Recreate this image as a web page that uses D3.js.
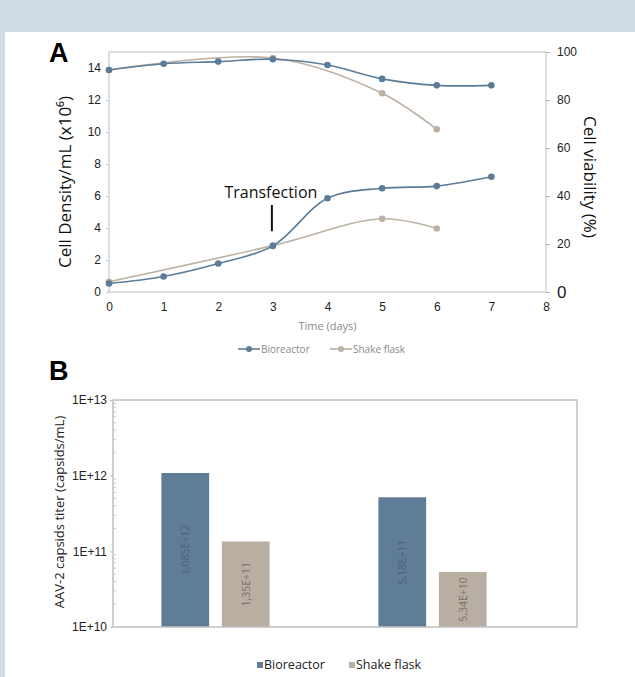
<!DOCTYPE html>
<html>
<head>
<meta charset="utf-8">
<script src="https://cdnjs.cloudflare.com/ajax/libs/d3/7.8.5/d3.min.js"></script>
<style>
  body { margin: 0; background: #cfdce3; }
  svg { display: block; font-family: "Open Sans", sans-serif; }
</style>
</head>
<body>
<div id="chart"></div>
<script>
// ---- data ----
// Panel A: cell density (x10^6/mL) and viability (%) vs time (days)
const bioDays = [0, 1, 2, 3, 4, 5, 6, 7]
const bioDensity = [0.53, 0.97, 1.78, 2.88, 5.86, 6.48, 6.62, 7.2]
const bioViability = [92.5, 95.1, 96.0, 97.0, 94.6, 88.8, 86.1, 86.1]
const flaskDays = [0, 3, 5, 6]
const flaskDensity = [0.64, 2.9, 4.58, 3.97]
const flaskViability = [92.5, 97.5, 82.8, 67.8]
const leftTicks = [0, 2, 4, 6, 8, 10, 12, 14]
const rightTicks = [0, 20, 40, 60, 80, 100]
const dayTicks = [0, 1, 2, 3, 4, 5, 6, 7, 8]

// Panel B: AAV-2 capsid titer
const runs = ["Run 1", "Run 2"]
const bioTiter = [1.085e12, 5.18e11]
const flaskTiter = [1.35e11, 5.34e10]
const titerLabels = [["1,085E+12", "1,35E+11"], ["5,18E+11", "5,34E+10"]]
const logTicks = [1e10, 1e11, 1e12, 1e13]
const logTickLabels = ["1E+10", "1E+11", "1E+12", "1E+13"]

const seriesNames = ["Bioreactor", "Shake flask"]
const blue = "#5b7c98", beige = "#bcb1a4"

var W = 635, H = 677

var svg = d3.select("#chart").append("svg")
    .attr("width", W)
    .attr("height", H)

// white card
svg.append("rect")
    .attr("x", 5).attr("y", 32)
    .attr("width", W - 5).attr("height", H - 32)
    .style("fill", "white")

// ================= Panel A =================
var a = { left: 109, right: 546, top: 52, bottom: 292 }

var x = d3.scaleLinear().domain([0, 8]).range([a.left, a.right])
var yL = d3.scaleLinear().domain([0, 15]).range([a.bottom, a.top])
var yR = d3.scaleLinear().domain([0, 100]).range([a.bottom, a.top])

svg.append("text")
    .attr("x", 49).attr("y", 62)
    .style("font-family", "Liberation Sans, Arial, sans-serif")
    .style("font-weight", "bold").style("font-size", "27px")
    .text("A")

// plot frame
svg.append("rect")
    .attr("x", a.left).attr("y", a.top)
    .attr("width", a.right - a.left).attr("height", a.bottom - a.top)
    .style("fill", "none").style("stroke", "#c9c9c9").style("stroke-width", 1.2)

// left axis
var gl = svg.append("g")
    .attr("transform", "translate(" + a.left + ",0)")
    .call(d3.axisLeft(yL).tickValues(leftTicks).tickSize(3).tickPadding(5))
gl.select(".domain").remove()
gl.selectAll("line").style("stroke", "#c9c9c9")
gl.selectAll("text").style("font-size", "12px").style("fill", "#222")

// right axis
var gr = svg.append("g")
    .attr("transform", "translate(" + a.right + ",0)")
    .call(d3.axisRight(yR).tickValues(rightTicks).tickSize(4).tickPadding(7))
gr.select(".domain").remove()
gr.selectAll("line").style("stroke", "#b5b5b5")
gr.selectAll("text").style("font-size", "12px").style("fill", "#222")
gr.selectAll("text").filter(function (d) { return d === 0 })
    .style("font-size", "17px")

// bottom axis
var gb = svg.append("g")
    .attr("transform", "translate(0," + a.bottom + ")")
    .call(d3.axisBottom(x).tickValues(dayTicks).tickSize(0).tickPadding(10))
gb.select(".domain").remove()
gb.selectAll("text").style("font-size", "12px").style("fill", "#222")

// axis titles
svg.append("text")
    .attr("transform", "translate(71,182) rotate(-90)")
    .attr("text-anchor", "middle")
    .style("font-size", "17px").style("fill", "#111")
    .text("Cell Density/mL (x10⁶)")

svg.append("text")
    .attr("transform", "translate(584,177) rotate(90)")
    .attr("text-anchor", "middle")
    .style("font-size", "17px").style("fill", "#111")
    .text("Cell viability (%)")

svg.append("text")
    .attr("x", (a.left + a.right) / 2).attr("y", 330)
    .attr("text-anchor", "middle")
    .style("font-size", "11px").style("fill", "#8a8a8a")
    .text("Time (days)")

// lines
var curve = d3.curveCatmullRom.alpha(0.5)
function drawSeries(days, vals, yScale, color) {
    var pts = days.map(function (d, i) { return [d, vals[i]] })
    var line = d3.line()
        .x(function (d) { return x(d[0]) })
        .y(function (d) { return yScale(d[1]) })
        .curve(curve)
    svg.append("path")
        .datum(pts)
        .attr("d", line)
        .style("fill", "none").style("stroke", color).style("stroke-width", 1.6)
    svg.append("g").selectAll("circle")
        .data(pts).enter()
        .append("circle")
        .attr("cx", function (d) { return x(d[0]) })
        .attr("cy", function (d) { return yScale(d[1]) })
        .attr("r", 3.3)
        .style("fill", color)
}
drawSeries(flaskDays, flaskViability, yR, beige)
drawSeries(bioDays, bioViability, yR, blue)
drawSeries(flaskDays, flaskDensity, yL, beige)
drawSeries(bioDays, bioDensity, yL, blue)

// transfection annotation
svg.append("text")
    .attr("x", x(3) - 2).attr("y", 198)
    .attr("text-anchor", "middle")
    .style("font-size", "16px").style("fill", "#111")
    .text("Transfection")
svg.append("line")
    .attr("x1", x(3) - 1).attr("x2", x(3) - 1)
    .attr("y1", yL(6) + 9).attr("y2", yL(3.8))
    .style("stroke", "#111").style("stroke-width", 2)

// legend A
var legA = svg.append("g").attr("transform", "translate(238,349)")
;[blue, beige].forEach(function (c, i) {
    var g = legA.append("g").attr("transform", "translate(" + i * 92 + ",0)")
    g.append("line").attr("x1", 0).attr("x2", 22)
        .style("stroke", c).style("stroke-width", 1.6)
    g.append("circle").attr("cx", 11).attr("r", 3).style("fill", c)
    g.append("text").attr("x", 23).attr("y", 4)
        .style("font-size", "10px").style("fill", "#8a8a8a")
        .text(seriesNames[i])
})

// ================= Panel B =================
var b = { left: 113, right: 577, top: 400, bottom: 627 }

svg.append("text")
    .attr("x", 49).attr("y", 380)
    .style("font-family", "Liberation Sans, Arial, sans-serif")
    .style("font-weight", "bold").style("font-size", "27px")
    .text("B")

var yB = d3.scaleLog().domain([1e10, 1e13]).range([b.bottom, b.top])
var x0 = d3.scaleBand().domain(runs).range([b.left - 6, b.left + 428]).paddingInner(0).paddingOuter(0)
var x1 = d3.scaleBand().domain(seriesNames).range([0, x0.bandwidth()]).paddingInner(0.21).paddingOuter(0.9)

// minor log ticks
var minor = yB.ticks().filter(function (t) { return logTicks.indexOf(t) < 0 })
svg.append("g").selectAll("line")
    .data(minor).enter()
    .append("line")
    .attr("x1", b.left).attr("x2", b.left + 3)
    .attr("y1", function (d) { return yB(d) }).attr("y2", function (d) { return yB(d) })
    .style("stroke", "#cfcfcf")

var gyb = svg.append("g")
    .attr("transform", "translate(" + b.left + ",0)")
    .call(d3.axisLeft(yB).tickValues(logTicks)
        .tickFormat(function (d, i) { return logTickLabels[i] })
        .tickSize(3).tickPadding(3))
gyb.select(".domain").remove()
gyb.selectAll("line").style("stroke", "#c0c0c0")
gyb.selectAll("text").style("font-size", "12px").style("fill", "#222")

svg.append("text")
    .attr("transform", "translate(64,512) rotate(-90)")
    .attr("text-anchor", "middle")
    .style("font-size", "13px").style("fill", "#222")
    .text("AAV-2 capsids titer (capsids/mL)")

// bars
var groups = svg.append("g").selectAll("g")
    .data(runs).enter()
    .append("g")
    .attr("transform", function (d) { return "translate(" + x0(d) + ",0)" })

groups.each(function (run, ri) {
    var vals = [bioTiter[ri], flaskTiter[ri]]
    var g = d3.select(this)
    vals.forEach(function (v, si) {
        var bx = x1(seriesNames[si])
        g.append("rect")
            .attr("x", bx).attr("y", yB(v))
            .attr("width", x1.bandwidth()).attr("height", b.bottom - yB(v))
            .style("fill", si === 0 ? "#5f7d96" : "#b9aea2")
        var cy = (yB(v) + b.bottom) / 2
        g.append("text")
            .attr("transform", "translate(" + (bx + x1.bandwidth() / 2 + 4) + "," + cy + ") rotate(-90)")
            .attr("text-anchor", "middle")
            .style("font-size", "10.5px")
            .style("fill", si === 0 ? "#4e6378" : "#78736c")
            .text(titerLabels[ri][si])
    })
})

// frame B
svg.append("rect")
    .attr("x", b.left).attr("y", b.top)
    .attr("width", b.right - b.left).attr("height", b.bottom - b.top)
    .style("fill", "none").style("stroke", "#c0c0c0").style("stroke-width", 1.5)

// legend B
var legB = svg.append("g").attr("transform", "translate(257,666)")
;[["#5f7d96", 0], ["#b9aea2", 92]].forEach(function (c, i) {
    legB.append("rect").attr("x", c[1]).attr("y", -4)
        .attr("width", 6).attr("height", 6).style("fill", c[0])
    legB.append("text").attr("x", c[1] + 7).attr("y", 3)
        .style("font-size", "12.5px").style("fill", "#222")
        .text(seriesNames[i])
})
</script>
</body>
</html>
